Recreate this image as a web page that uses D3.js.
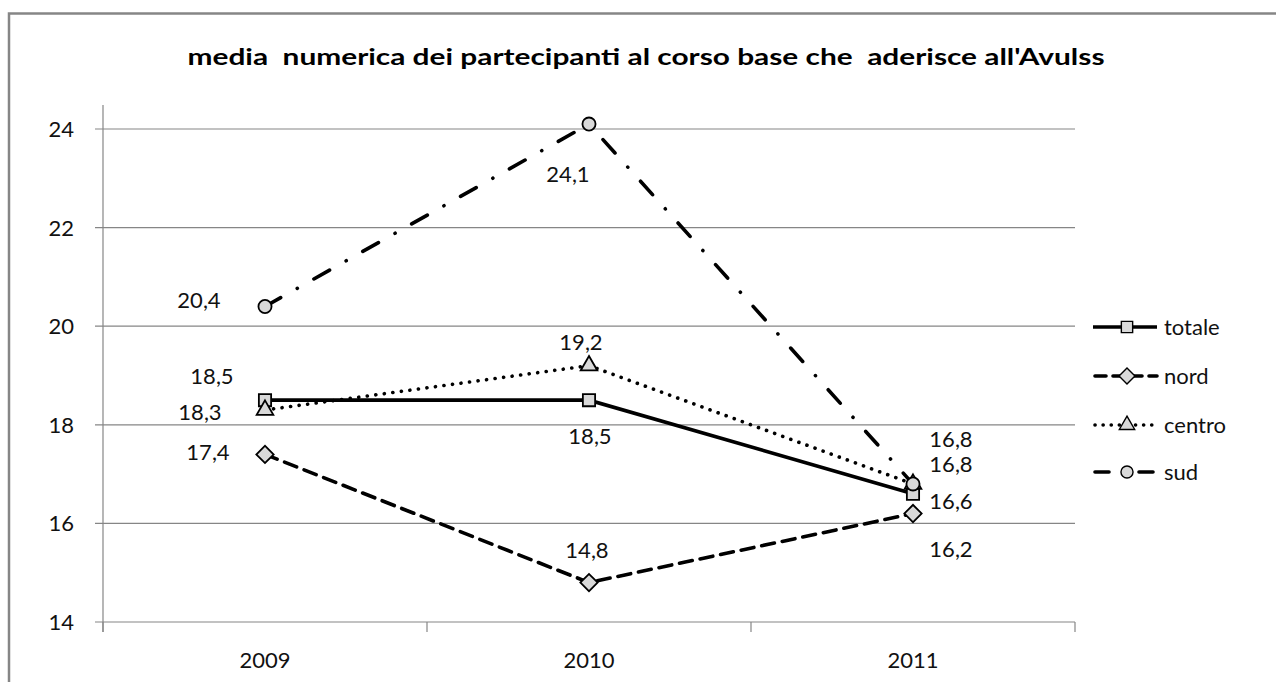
<!DOCTYPE html>
<html><head><meta charset="utf-8">
<script src="https://cdn.jsdelivr.net/npm/d3@7"></script>
<style>body{margin:0;background:#fff;} svg{display:block;}</style>
</head><body>
<script>
const categories = ["2009","2010","2011"];
const seriesNames = ["totale","nord","centro","sud"];
const totale = [18.5, 18.5, 16.6];
const nord = [17.4, 14.8, 16.2];
const centro = [18.3, 19.2, 16.8];
const sud = [20.4, 24.1, 16.8];
const yTicks = [14,16,18,20,22,24];
const title = "media  numerica dei partecipanti al corso base che  aderisce all'Avulss";

const W=1276,H=682;
const svg=d3.select("body").append("svg").attr("width",W).attr("height",H);
const font="Lato, 'Open Sans', sans-serif";
const fs=22;

svg.append("path").attr("d","M9,"+H+" V13.5 H"+W).attr("fill","none").attr("stroke","#868686").attr("stroke-width",2.5);

svg.append("text").attr("x",646).attr("y",65).attr("text-anchor","middle")
  .attr("font-family",font).attr("font-weight","bold").attr("font-size",23.5).attr("fill","#000")
  .attr("textLength",917).attr("lengthAdjust","spacingAndGlyphs").style("white-space","pre").text(title);

const x=d3.scaleBand().domain(categories).range([103,1075]);
const y=d3.scaleLinear().domain([14,24]).range([622,129]);
const xc=c=>x(c)+x.bandwidth()/2;

const g=svg.append("g");
g.selectAll(".grid").data(yTicks).join("line")
  .attr("x1",95).attr("x2",1075).attr("y1",d=>y(d)).attr("y2",d=>y(d))
  .attr("stroke","#868686").attr("stroke-width",1.2);
g.append("line").attr("x1",103).attr("x2",103).attr("y1",105).attr("y2",632).attr("stroke","#868686").attr("stroke-width",1.2);
const xt=[...categories.map(c=>x(c)),1075];
g.selectAll(".xt").data(xt).join("line").attr("x1",d=>d).attr("x2",d=>d).attr("y1",622).attr("y2",632)
  .attr("stroke","#868686").attr("stroke-width",1.2);
g.selectAll(".yl").data(yTicks).join("text").attr("x",74).attr("y",d=>y(d)+8).attr("text-anchor","end")
  .attr("font-family",font).attr("font-size",fs).attr("fill","#111").text(d=>d);
g.selectAll(".xl").data(categories).join("text").attr("x",d=>xc(d)).attr("y",668).attr("text-anchor","middle")
  .attr("font-family",font).attr("font-size",fs).attr("fill","#111").text(d=>d);

const sq=d3.symbolSquare;
const styles={
  totale:{dash:null,w:3.6,cap:"butt",sym:sq,size:150,rot:0},
  nord:{dash:"13,8",w:3.6,cap:"round",sym:sq,size:150,rot:45},
  centro:{dash:"0.1,8.5",w:3.6,cap:"round",sym:d3.symbolTriangle,size:120,rot:0},
  sud:{dash:"18,19,0.1,19",w:3.6,cap:"round",sym:d3.symbolCircle,size:135,rot:0}
};
const data={totale,nord,centro,sud};
const line=d3.line().x((d,i)=>xc(categories[i])).y(d=>y(d));
seriesNames.forEach(s=>{
  const st=styles[s];
  g.append("path").attr("d",line(data[s])).attr("fill","none").attr("stroke","#000")
   .attr("stroke-width",st.w).attr("stroke-dasharray",st.dash).attr("stroke-linecap",st.cap);
});
seriesNames.forEach(s=>{
  const st=styles[s];
  g.selectAll(null).data(data[s]).join("path")
   .attr("transform",(d,i)=>`translate(${xc(categories[i])},${y(d)}) rotate(${st.rot})`)
   .attr("d",d3.symbol(st.sym,st.size)).attr("fill","#d9d9d9").attr("stroke","#000").attr("stroke-width",1.8);
});

const labelOffsets={
  totale:[[-53,-16],[1,44],[38,15]],
  nord:[[-57,6],[-2,-25],[38,43]],
  centro:[[-65,10],[-8,-16],[38,-12]],
  sud:[[-66,2],[-21,58],[38,-37]]
};
seriesNames.forEach(s=>{
  data[s].forEach((v,i)=>{
    const o=labelOffsets[s][i];
    g.append("text").attr("x",xc(categories[i])+o[0]).attr("y",y(v)+o[1]).attr("text-anchor","middle")
     .attr("font-family",font).attr("font-size",fs).attr("fill","#111").text(d3.format(".1f")(v).replace(".",","));
  });
});

const ly=[327,376,425,472];
const legDash={totale:null,nord:"11,7",centro:"0.1,8",sud:"14,30"};
seriesNames.forEach((s,i)=>{
  const st=styles[s];
  const lg=svg.append("g").attr("transform",`translate(0,${ly[i]})`);
  lg.append("line").attr("x1",s==="totale"?1093:1095).attr("x2",1157).attr("y1",0).attr("y2",0).attr("stroke","#000")
    .attr("stroke-width",st.w).attr("stroke-dasharray",legDash[s]).attr("stroke-linecap",st.cap);
  lg.append("path").attr("transform",`translate(1127,0) rotate(${st.rot})`).attr("d",d3.symbol(st.sym,st.size*0.85))
    .attr("fill","#d9d9d9").attr("stroke","#000").attr("stroke-width",1.4);
  lg.append("text").attr("x",1164).attr("y",7.5).attr("font-family",font).attr("font-size",fs).attr("fill","#111").text(s);
});
</script>
</body></html>
